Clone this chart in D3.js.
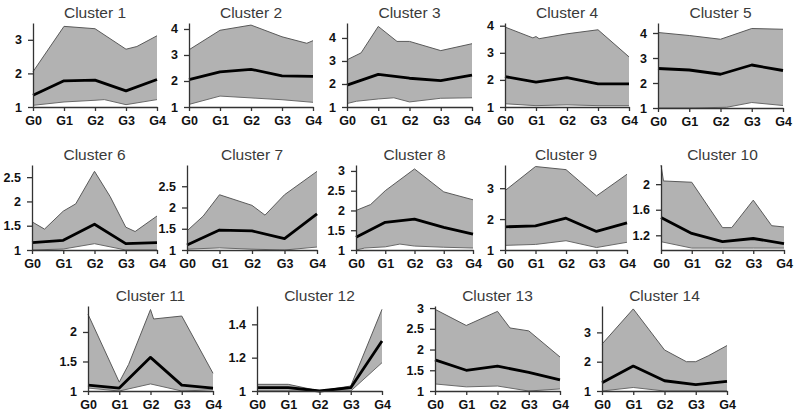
<html>
<head>
    <script src="https://d3js.org/d3.v7.min.js"></script>
    <style>
        body { margin: 0; background: #fff; }
    </style>
</head>
<body>
    <svg id="s" width="800" height="414"></svg>
    <script>
        // data
        const clusterNames = ["Cluster 1", "Cluster 2", "Cluster 3", "Cluster 4", "Cluster 5",
            "Cluster 6", "Cluster 7", "Cluster 8", "Cluster 9", "Cluster 10",
            "Cluster 11", "Cluster 12", "Cluster 13", "Cluster 14"]
        const groups = ["G0", "G1", "G2", "G3", "G4"]

        const meanValues = [
            [1.35, 1.78, 1.8, 1.48, 1.82],
            [2.05, 2.35, 2.45, 2.2, 2.18],
            [1.95, 2.42, 2.25, 2.15, 2.38],
            [2.12, 1.92, 2.08, 1.85, 1.85],
            [2.58, 2.52, 2.35, 2.72, 2.5],
            [1.15, 1.2, 1.53, 1.13, 1.15],
            [1.12, 1.47, 1.45, 1.27, 1.85],
            [1.32, 1.7, 1.78, 1.57, 1.4],
            [1.75, 1.78, 2.03, 1.6, 1.88],
            [1.48, 1.23, 1.1, 1.15, 1.07],
            [1.1, 1.05, 1.57, 1.1, 1.05],
            [1.02, 1.02, 1.0, 1.02, 1.3],
            [1.75, 1.5, 1.6, 1.45, 1.27],
            [1.28, 1.85, 1.35, 1.22, 1.33]
        ]

        // envelope points as [group index, value]
        const upperPoints = [
            [[0, 2.05], [1, 3.4], [2, 3.33], [3, 2.72], [3.35, 2.8], [4, 3.12]],
            [[0, 3.2], [1, 3.95], [2, 4.15], [3, 3.7], [3.8, 3.45], [4, 3.55]],
            [[0, 3.05], [0.45, 3.35], [1, 4.5], [1.6, 3.85], [2, 3.85], [3, 3.45], [4, 3.75]],
            [[0, 3.95], [0.9, 3.55], [1, 3.6], [1.1, 3.52], [2, 3.7], [3, 3.85], [4, 2.85]],
            [[0, 4.02], [1, 3.9], [2, 3.75], [3, 4.18], [4, 4.15]],
            [[0, 1.58], [0.4, 1.43], [1, 1.8], [1.4, 1.95], [2, 2.62], [2.5, 2.1], [3, 1.47], [3.3, 1.38], [4, 1.7]],
            [[0, 1.45], [0.5, 1.8], [1, 2.3], [2, 2.05], [2.4, 1.82], [3, 2.3], [4, 2.85]],
            [[0, 2.0], [0.5, 2.15], [1, 2.5], [2, 3.05], [3, 2.47], [4, 2.27]],
            [[0, 2.92], [1, 3.7], [2, 3.6], [3, 2.75], [4, 3.45]],
            [[0, 2.3], [0.08, 2.05], [1, 2.03], [2, 1.32], [2.3, 1.32], [3, 1.75], [3.6, 1.35], [4, 1.33]],
            [[0, 2.3], [1, 1.15], [1.3, 1.45], [2, 2.38], [2.1, 2.22], [3, 2.27], [4, 1.3]],
            [[0, 1.04], [1, 1.04], [2, 1.0], [3, 1.03], [4, 1.49]],
            [[0, 2.97], [1, 2.58], [2, 2.92], [2.4, 2.52], [3, 2.45], [4, 1.82]],
            [[0, 2.6], [1, 3.8], [2, 2.4], [2.7, 2.0], [3, 2.0], [3.4, 2.2], [4, 2.55]]
        ]

        const lowerPoints = [
            [[0, 1.05], [1, 1.15], [2, 1.2], [2.3, 1.22], [3, 1.07], [4, 1.22]],
            [[0, 1.1], [1, 1.42], [2, 1.35], [3, 1.28], [4, 1.18]],
            [[0, 1.15], [0.3, 1.25], [1, 1.35], [1.5, 1.4], [2, 1.22], [3, 1.38], [4, 1.4]],
            [[0, 1.12], [1, 1.05], [2, 1.08], [3, 1.05], [4, 1.05]],
            [[0, 1.0], [1, 1.0], [2.2, 1.03], [3, 1.22], [4, 1.1]],
            [[0, 1.0], [1, 1.02], [2, 1.13], [3, 1.0], [4, 1.0]],
            [[0, 1.02], [1, 1.05], [2, 1.02], [3, 1.0], [4, 1.07]],
            [[0, 1.0], [0.3, 1.05], [1, 1.08], [1.5, 1.15], [2, 1.1], [3, 1.07], [4, 1.05]],
            [[0, 1.15], [1, 1.18], [2, 1.3], [3, 1.08], [4, 1.25]],
            [[0, 1.1], [1, 1.0], [2, 1.0], [3, 1.0], [4, 1.0]],
            [[0, 1.05], [1, 1.0], [2, 1.12], [3, 1.0], [4, 1.02]],
            [[0, 1.0], [1, 1.0], [2, 1.0], [3, 1.0], [4, 1.17]],
            [[0, 1.17], [1, 1.1], [2, 1.12], [3, 1.0], [4, 1.05]],
            [[0, 1.0], [1, 1.12], [2, 1.0], [3, 1.0], [4, 1.0]]
        ]

        const yMins = [1, 1, 1, 1, 1, 1, 1, 1, 1, 0.97, 1, 1, 1, 1]
        const yMaxs = [3.5, 4.23, 4.65, 4.1, 4.4, 2.75, 3.0, 3.15, 3.75, 2.3, 2.44, 1.51, 3.05, 3.9]
        const yTicks = [
            [1, 2, 3], [1, 2, 3, 4], [1, 2, 3, 4], [1, 2, 3, 4], [1, 2, 3, 4],
            [1, 1.5, 2, 2.5], [1, 1.5, 2, 2.5], [1, 1.5, 2, 2.5, 3], [1, 2, 3], [1.2, 1.6, 2],
            [1, 1.5, 2], [1, 1.2, 1.4], [1, 1.5, 2, 2.5, 3], [1, 2, 3]
        ]

        // panel layout: left edge (G0), right edge (G4), bottom, top
        const panels = [
            [33, 157, 107, 23], [189, 313, 107, 23], [347, 472, 107, 23], [505, 629, 107, 23], [658, 783, 108, 23],
            [32, 157, 250, 165], [187, 317, 250, 165], [356, 473, 250, 165], [505, 627, 250, 165], [661, 784, 250, 165],
            [88, 213, 391, 306], [257, 382, 391, 306], [435, 560, 391, 306], [602, 727, 391, 306]
        ]

        const svg = d3.select("#s")

        clusterNames.forEach((name, i) => {
            const [x0, x1, yb, yt] = panels[i]
            const g = svg.append("g")

            const x = d3.scaleLinear().domain([0, groups.length - 1]).range([x0, x1])
            const y = d3.scaleLinear().domain([yMins[i], yMaxs[i]]).range([yb, yt])

            // band between max and min
            const poly = upperPoints[i].concat(lowerPoints[i].slice().reverse())
            const line = d3.line().x(d => x(d[0])).y(d => y(d[1]))
            g.append("path")
                .attr("d", line(poly) + "Z")
                .attr("fill", "#b2b2b2")
                .attr("stroke", "none")
            g.append("path")
                .attr("d", line(upperPoints[i]))
                .attr("fill", "none")
                .attr("stroke", "#5a5a5a")
                .attr("stroke-width", 1)
            g.append("path")
                .attr("d", line(lowerPoints[i]))
                .attr("fill", "none")
                .attr("stroke", "#6a6a6a")
                .attr("stroke-width", 1)

            // mean line
            g.append("path")
                .attr("d", line(meanValues[i].map((v, j) => [j, v])))
                .attr("fill", "none")
                .attr("stroke", "#000")
                .attr("stroke-width", 2.8)
                .attr("stroke-linejoin", "round")

            // axes
            const xAxis = d3.axisBottom(x)
                .tickValues(d3.range(groups.length))
                .tickFormat(j => groups[j])
                .tickSize(4)
                .tickSizeOuter(0)
                .tickPadding(5)
            g.append("g")
                .attr("transform", `translate(0, ${yb})`)
                .call(xAxis)

            const yAxis = d3.axisLeft(y)
                .tickValues(yTicks[i])
                .tickFormat(d3.format("~g"))
                .tickSize(5)
                .tickSizeOuter(0)
                .tickPadding(6)
            g.append("g")
                .attr("transform", `translate(${x0}, 0)`)
                .call(yAxis)

            g.selectAll(".domain, .tick line")
                .attr("stroke", "#333")
                .attr("stroke-width", 1.3)
            g.selectAll(".tick text")
                .attr("font-family", "Liberation Sans, Arial, sans-serif")
                .attr("font-size", "12.5px")
                .attr("font-weight", "bold")
                .attr("fill", "#111")

            // title
            g.append("text")
                .attr("x", (x0 + x1) / 2)
                .attr("y", yt - 5)
                .attr("font-family", "Liberation Sans, Arial, sans-serif")
                .attr("font-size", "15.5px")
                .attr("text-anchor", "middle")
                .attr("fill", "#3a3a3a")
                .text(name)
        })
    </script>
</body>
</html>
